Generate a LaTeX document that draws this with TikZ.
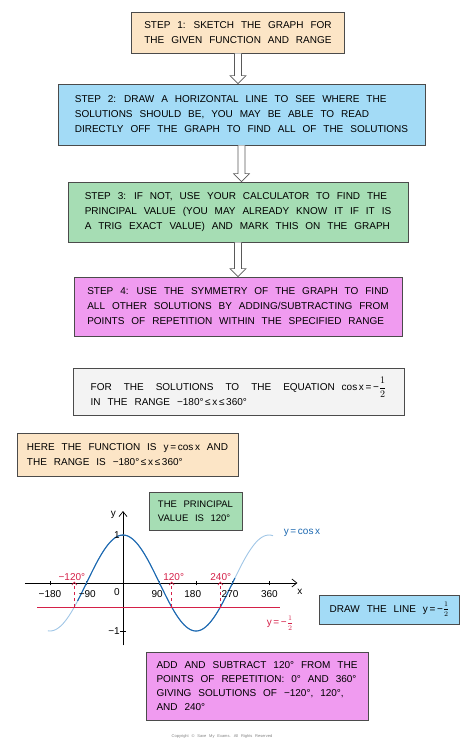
\documentclass[tikz,border=0pt]{standalone}
\usepackage{fontspec}
\setmainfont[WordSpace=2.5]{Liberation Sans}
\usetikzlibrary{arrows.meta,calc}
\definecolor{peach}{RGB}{252,229,198}
\definecolor{skyblue}{RGB}{163,219,246}
\definecolor{mint}{RGB}{166,221,180}
\definecolor{orchid}{RGB}{240,155,240}
\definecolor{paper}{RGB}{243,243,243}
\definecolor{boxline}{RGB}{75,75,75}
\definecolor{cosdark}{RGB}{28,104,176}
\definecolor{coslight}{RGB}{160,198,230}
\definecolor{solred}{RGB}{212,32,72}
\newcommand{\halfval}{$\displaystyle\frac{1}{2}$}
\newcommand{\smallhalf}{$\frac{\raisebox{1.2pt}{$\scriptstyle 1$}}{\raisebox{-1.2pt}{$\scriptstyle 2$}}$}
\newcommand{\xrange}{−180°\,≤\,x\,≤\,360°}
\newcommand{\widespace}{\spaceskip=12pt\relax}
\begin{document}
\begin{tikzpicture}
  [x=1pt,y=-1pt,
   box/.style={draw=boxline,line width=0.8pt,align=left,inner sep=0pt,
     font=\fontsize{10}{15}\selectfont},
   blockarrow/.style={draw=gray!70!black,fill=white,line width=0.6pt,
     to path={let \p1=(\tikztostart), \p2=(\tikztotarget) in
       (\x1-3.5pt,\y1) -- (\x1-3.5pt,\y2+8pt) -- (\x1-8pt,\y2+8pt) -- (\x1,\y2)
       -- (\x1+8pt,\y2+8pt) -- (\x1+3.5pt,\y2+8pt) -- (\x1+3.5pt,\y1)}},
   lbl/.style={inner sep=1pt,font=\fontsize{10}{12}\selectfont},
   redlbl/.style={lbl,text=solred}]
  \useasboundingbox (0,0) rectangle (474,745);

  % the four steps
  \node[box,fill=peach,minimum width=213pt,minimum height=41pt] (s1) at (238,32.5)
    {STEP 1: SKETCH THE GRAPH FOR\\THE GIVEN FUNCTION AND RANGE};
  \node[box,fill=skyblue,minimum width=367pt,minimum height=61pt] (s2) at (241.5,114.5)
    {STEP 2: DRAW A HORIZONTAL LINE TO SEE WHERE THE\\SOLUTIONS SHOULD BE, YOU MAY BE ABLE TO READ\\DIRECTLY OFF THE GRAPH TO FIND ALL OF THE SOLUTIONS};
  \node[box,fill=mint,minimum width=340pt,minimum height=60pt] (s3) at (238,212)
    {STEP 3: IF NOT, USE YOUR CALCULATOR TO FIND THE\\PRINCIPAL VALUE (YOU MAY ALREADY KNOW IT IF IT IS\\A TRIG EXACT VALUE) AND MARK THIS ON THE GRAPH};
  \node[box,fill=orchid,minimum width=328pt,minimum height=59pt] (s4) at (238,306.5)
    {STEP 4: USE THE SYMMETRY OF THE GRAPH TO FIND\\ALL OTHER SOLUTIONS BY ADDING/SUBTRACTING FROM\\POINTS OF REPETITION WITHIN THE SPECIFIED RANGE};

  \foreach \from/\to in {s1/s2,s2/s3,s3/s4}
    \draw[blockarrow] (\from.south) to (\from.south |- \to.north);

  % the worked example
  \node[box,fill=paper,minimum width=331pt,minimum height=47pt] (eq) at (238.5,391.5)
    {{\widespace FOR THE SOLUTIONS TO THE EQUATION} cos\,x\,=\,−\halfval\\IN THE RANGE \xrange};
  \node[box,fill=peach,minimum width=221pt,minimum height=43pt] (fn) at (127.5,454.5)
    {HERE THE FUNCTION IS y\,=\,cos\,x AND\\THE RANGE IS \xrange};
  \node[box,fill=mint,minimum width=93pt,minimum height=38pt,
    font=\fontsize{9.5}{14}\selectfont] (pv) at (195.5,511.5)
    {THE PRINCIPAL\\VALUE IS 120°};
  \node[box,fill=skyblue,minimum width=140pt,minimum height=29pt] (dl) at (389.5,609.5)
    {DRAW THE LINE y\,=\,−\smallhalf};
  \node[box,fill=orchid,minimum width=222pt,minimum height=68pt,
    font=\fontsize{10}{14.3}\selectfont] (sol) at (257,686)
    {ADD AND SUBTRACT 120° FROM THE\\POINTS OF REPETITION: 0° AND 360°\\GIVING SOLUTIONS OF −120°, 120°,\\AND 240°};

  % graph of y = cos x
  \begin{scope}[shift={(123,583)},x=0.4056pt,y=48pt]
    \coordinate (xl) at (-242,0);
    \coordinate (xr) at (430,0);
    \coordinate (yb) at (0,-1.3);
    \coordinate (yt) at (0,1.5);
    \draw[line width=0.7pt,-{Straight Barb[length=5pt,width=8pt]}] (xl) -- (xr);
    \draw[line width=0.7pt,-{Straight Barb[length=5pt,width=8pt]}] (yb) -- (yt);
    \foreach \t in {-180,-90,90,180,270,360}
      \draw[line width=0.6pt] (\t,-0.05) -- (\t,0.05);
    \foreach \t in {-1,1}
      \draw[line width=0.6pt] (-8,\t) -- (8,\t);

    \draw[coslight,line width=0.9pt,domain=-185:370,samples=120] plot (\x,{cos(\x)});
    \draw[cosdark,line width=1.1pt,domain=-112:276,samples=100] plot (\x,{cos(\x)});

    \coordinate (ra) at (-212,-0.5);
    \coordinate (rb) at (387,-0.5);
    \draw[solred,line width=0.9pt] (ra) -- (rb);

    \node[lbl] (tm180) at (-180,-0.23) {−180};
    \node[lbl] (tm90) at (-88,-0.23) {−90};
    \node[lbl] (t0) at (-15,-0.18) {0};
    \node[lbl] (t90) at (84,-0.23) {90};
    \node[lbl] (t180) at (172,-0.23) {180};
    \node[lbl] (t270) at (264,-0.23) {270};
    \node[lbl] (t360) at (361,-0.23) {360};
    \node[lbl] (t1) at (-15,1) {1};
    \node[lbl] (tm1) at (-22,-1) {−1};
    \node[lbl] (xlab) at (436,-0.18) {x};
    \node[lbl] (ylab) at (-24,1.42) {y};

    \node[redlbl] (lm120) at (-126,0.13) {−120°};
    \node[redlbl] (l120) at (125,0.13) {120°};
    \node[redlbl] (l240) at (241,0.13) {240°};
    \coordinate (pm120) at (-120,-0.5);
    \coordinate (p120) at (120,-0.5);
    \coordinate (p240) at (240,-0.5);
    \foreach \p/\l in {pm120/lm120,p120/l120,p240/l240}
      \draw[solred,line width=0.7pt,dashed,-{Straight Barb[length=3pt,width=5pt]}]
        (\p) -- (\l.south -| \p);
  \end{scope}

  \node[lbl,text=cosdark] (cosname) at (302,533) {y\,=\,cos\,x};
  \node[lbl,text=solred] (linename) at (280,623) {y\,=\,−\smallhalf};

  \node[font=\fontsize{4}{5}\selectfont,text=gray] (copy) at (222,736)
    {Copyright © Save My Exams. All Rights Reserved};
\end{tikzpicture}
\end{document}
